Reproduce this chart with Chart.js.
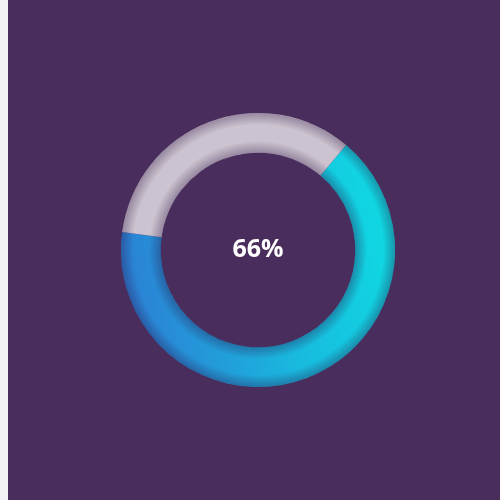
<!DOCTYPE html>
<html>
<head>
<meta charset="utf-8">
<script src="https://cdn.jsdelivr.net/npm/chart.js@4/dist/chart.umd.min.js"></script>
<style>
    html, body { margin: 0; padding: 0; background: #f1f1f6; }
    #panel { position: absolute; left: 8px; top: 0; width: 492px; height: 500px; background: #492e5d; }
    #wrap { position: absolute; left: 121px; top: 113px; width: 274px; height: 274px; }
    #label { position: absolute; left: 121px; top: 110px; width: 274px; height: 274px;
        display: flex; align-items: center; justify-content: center;
        font-family: "Open Sans", sans-serif; font-weight: 700; font-size: 25px; color: #ffffff; }
</style>
</head>
<body>
<div id="panel"></div>
<div id="wrap"><canvas id="ring"></canvas></div>
<div id="label"></div>
<script>
(function () {
    const labels = ['Done', 'Remaining'];
    const values = [66, 34];
    const trackColor = '#cbc3cf';

    document.getElementById('label').textContent = values[0] + '%';

    const canvas = document.getElementById('ring');
    const ctx = canvas.getContext('2d');

    function sliceFill(context) {
        if (context.dataIndex === 1) return trackColor;
        const area = context.chart.chartArea;
        if (!area) return '#2a9ad8';
        const g = context.chart.ctx.createLinearGradient(area.right, area.top + area.height * 0.4, area.left, area.top + area.height * 0.6);
        g.addColorStop(0, '#0fdbe2');
        g.addColorStop(0.45, '#19b8de');
        g.addColorStop(1, '#2c7ed4');
        return g;
    }

    // darker rim on both edges of the ring, like a soft tube
    const tubeShade = {
        id: 'tubeShade',
        afterDatasetsDraw(chart) {
            const arc = chart.getDatasetMeta(0).data[0];
            if (!arc) return;
            const { x, y, innerRadius, outerRadius } = arc.getProps(['x', 'y', 'innerRadius', 'outerRadius'], true);
            const c = chart.ctx;
            const t0 = innerRadius / outerRadius;
            const span = 1 - t0;
            const g = c.createRadialGradient(x, y, 0, x, y, outerRadius);
            g.addColorStop(t0, 'rgba(40,10,60,0.32)');
            g.addColorStop(t0 + span * 0.3, 'rgba(40,10,60,0)');
            g.addColorStop(t0 + span * 0.7, 'rgba(40,10,60,0)');
            g.addColorStop(1, 'rgba(40,10,60,0.32)');
            c.save();
            c.beginPath();
            c.arc(x, y, outerRadius, 0, Math.PI * 2);
            c.arc(x, y, innerRadius, 0, Math.PI * 2, true);
            c.closePath();
            c.fillStyle = g;
            c.fill();
            c.restore();
        }
    };

    new Chart(ctx, {
        type: 'doughnut',
        data: {
            labels: labels,
            datasets: [{
                data: values,
                backgroundColor: sliceFill,
                borderWidth: 0
            }]
        },
        options: {
            responsive: true,
            maintainAspectRatio: false,
            animation: false,
            cutout: '71%',
            rotation: 40,
            layout: { padding: 0 },
            plugins: { legend: { display: false }, tooltip: { enabled: false } }
        },
        plugins: [tubeShade]
    });
})();
</script>
</body>
</html>
